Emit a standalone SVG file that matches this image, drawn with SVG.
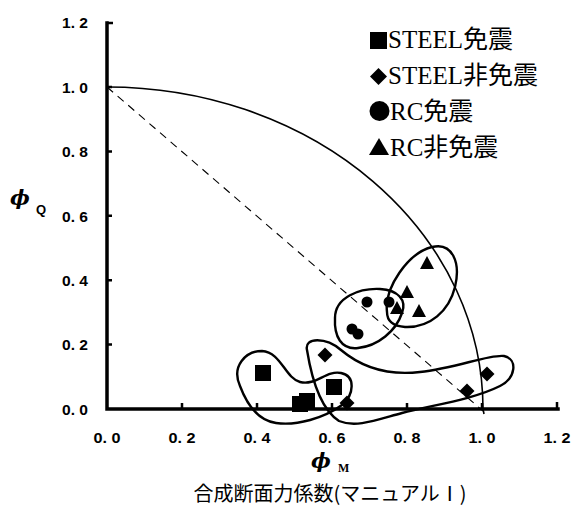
<svg xmlns="http://www.w3.org/2000/svg" xmlns:xlink="http://www.w3.org/1999/xlink" width="571" height="507" viewBox="0 0 571 507">
<style>
.ax{stroke:#000;stroke-width:3.5;fill:none;stroke-linecap:square}
.tk{stroke:#000;stroke-width:2.5;fill:none}
.tl{font-family:"Liberation Sans",Arial,sans-serif;font-weight:bold;font-size:14px;fill:#000}
.ln{stroke:#000;stroke-width:1.6;fill:none}
.ds{stroke:#000;stroke-width:1.1;fill:none;stroke-dasharray:8 6}
.lp{stroke:#000;stroke-width:2.4;fill:none;stroke-linejoin:round}
.lg{font-family:"Liberation Serif","Noto Sans CJK JP",serif;font-size:25px;fill:#000}
.cap{font-family:"Noto Sans CJK JP",sans-serif;font-size:20px;fill:#000}
.phi{font-family:"DejaVu Serif","Liberation Serif",serif;font-style:italic;font-weight:bold;font-size:21px;fill:#000}
.subq{font-family:"Liberation Sans",Arial,sans-serif;font-weight:bold;font-size:13px;fill:#000}
.subm{font-family:"Liberation Serif",serif;font-weight:bold;font-size:12px;fill:#000}
</style>
<defs>
<rect id="sq" x="-8" y="-8" width="16" height="16" fill="#000"/>
<polygon id="dm" points="0,-7.5 7.5,0 0,7.5 -7.5,0" fill="#000"/>
<circle id="ci" r="5.5" fill="#000"/>
<polygon id="tr" points="0,-8 7,5 -7,5" fill="#000"/>
</defs>

<g id="axes">
<path class="ax" d="M107,23 V409 H558"/>
<path class="tk" d="M107,23 H113 M107,87 H112 M107,151.4 H112 M107,215.8 H112 M107,280.2 H112 M107,344.6 H112 M182,409 V403 M257,409 V403 M332,409 V403 M407,409 V403 M482,409 V403 M557,409 V402"/>
<g id="ylabels">
<text class="tl" x="88" y="28" text-anchor="end" textLength="26" lengthAdjust="spacingAndGlyphs">1. 2</text>
<text class="tl" x="88" y="92.5" text-anchor="end" textLength="26" lengthAdjust="spacingAndGlyphs">1. 0</text>
<text class="tl" x="88" y="157" text-anchor="end" textLength="26" lengthAdjust="spacingAndGlyphs">0. 8</text>
<text class="tl" x="88" y="221.5" text-anchor="end" textLength="26" lengthAdjust="spacingAndGlyphs">0. 6</text>
<text class="tl" x="88" y="286" text-anchor="end" textLength="26" lengthAdjust="spacingAndGlyphs">0. 4</text>
<text class="tl" x="88" y="350" text-anchor="end" textLength="26" lengthAdjust="spacingAndGlyphs">0. 2</text>
<text class="tl" x="88" y="415" text-anchor="end" textLength="26" lengthAdjust="spacingAndGlyphs">0. 0</text>
</g>
<g id="xlabels">
<text class="tl" x="107" y="443" text-anchor="middle" textLength="27" lengthAdjust="spacingAndGlyphs">0. 0</text>
<text class="tl" x="182" y="443" text-anchor="middle" textLength="27" lengthAdjust="spacingAndGlyphs">0. 2</text>
<text class="tl" x="257" y="443" text-anchor="middle" textLength="27" lengthAdjust="spacingAndGlyphs">0. 4</text>
<text class="tl" x="332" y="443" text-anchor="middle" textLength="27" lengthAdjust="spacingAndGlyphs">0. 6</text>
<text class="tl" x="407" y="443" text-anchor="middle" textLength="27" lengthAdjust="spacingAndGlyphs">0. 8</text>
<text class="tl" x="482" y="443" text-anchor="middle" textLength="27" lengthAdjust="spacingAndGlyphs">1. 0</text>
<text class="tl" x="557" y="443" text-anchor="middle" textLength="27" lengthAdjust="spacingAndGlyphs">1. 2</text>
</g>
<g id="axis-titles">
<text class="phi" x="10" y="205">ϕ</text>
<text class="subq" x="36" y="214">Q</text>
<text class="phi" x="311" y="468">ϕ</text>
<text class="subm" x="338" y="472">M</text>
<text class="cap" x="330" y="501" text-anchor="middle">合成断面力係数(マニュアルⅠ)</text>
</g>
</g>

<g id="connectors">
<path class="ln" d="M107,87 A376,322 0 0 1 483,409 L484,414"/>
<path class="ds" d="M107,87 L483,411"/>
</g>

<g id="groups">
<path id="loop-rc-nonisolated" class="lp" d="M387,312 C384,288 408,253 432,247 C452,242 461,262 455,287 C449,311 430,328 405,327 C392,326 387,320 387,312 Z"/>
<path id="loop-rc-isolated" class="lp" d="M335,318 C335,297 360,288 380,289 C398,290 407,300 402,313 C396,331 378,346 358,348 C341,350 334,336 335,318 Z"/>
<path id="loop-steel-isolated" class="lp" d="M240,386 C231,366 246,351 262,351 C281,352 285,378 300,382 C316,386 326,370 341,373 C356,376 354,395 342,405 C324,418 297,426 276,423 C256,420 246,402 240,386 Z"/>
<path id="loop-steel-nonisolated" class="lp" d="M307,350 C304,337 326,337 341,350 C360,366 386,376 420,372 C456,368 490,354 504,356 C518,359 516,378 500,386 C472,400 432,405 402,413 C376,420 356,428 339,421 C322,410 312,381 307,350 Z"/>
</g>

<g id="points">
<g id="steel-isolated">
<use xlink:href="#sq" x="263" y="373"/>
<use xlink:href="#sq" x="334" y="387"/>
<use xlink:href="#sq" x="300" y="404"/>
<use xlink:href="#sq" x="307" y="401"/>
</g>
<g id="steel-nonisolated">
<use xlink:href="#dm" x="325" y="355"/>
<use xlink:href="#dm" x="347" y="403"/>
<use xlink:href="#dm" x="467" y="391"/>
<use xlink:href="#dm" x="487" y="374"/>
</g>
<g id="rc-isolated">
<use xlink:href="#ci" x="367" y="302"/>
<use xlink:href="#ci" x="389" y="302"/>
<use xlink:href="#ci" x="352" y="329"/>
<use xlink:href="#ci" x="358" y="334"/>
</g>
<g id="rc-nonisolated">
<use xlink:href="#tr" x="427" y="264"/>
<use xlink:href="#tr" x="407" y="293"/>
<use xlink:href="#tr" x="397" y="309"/>
<use xlink:href="#tr" x="419" y="312"/>
</g>
</g>

<g id="legend">
<g id="legend-steel-isolated"><rect x="370" y="32" width="17" height="17" fill="#000"/><text class="lg" x="388" y="48">STEEL免震</text></g>
<g id="legend-steel-nonisolated"><polygon points="378.5,68 387,76.5 378.5,85 370,76.5" fill="#000"/><text class="lg" x="388" y="84">STEEL非免震</text></g>
<g id="legend-rc-isolated"><circle cx="379.5" cy="111" r="10" fill="#000"/><text class="lg" x="390" y="120">RC免震</text></g>
<g id="legend-rc-nonisolated"><polygon points="379,138 389,155 369,155" fill="#000"/><text class="lg" x="390" y="156">RC非免震</text></g>
</g>
</svg>
